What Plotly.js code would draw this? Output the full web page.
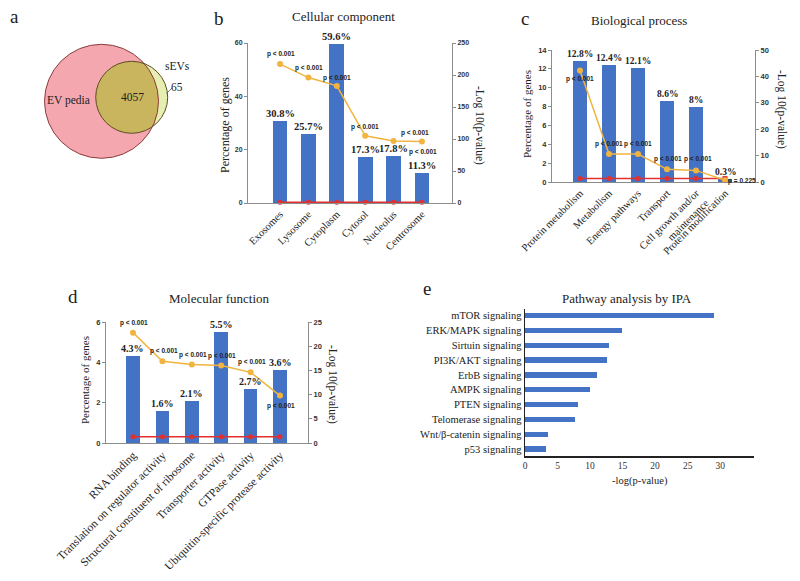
<!DOCTYPE html>
<html><head><meta charset="utf-8">
<script src="https://cdn.plot.ly/plotly-3.0.1.min.js"></script>
<style>html,body{margin:0;padding:0;background:#fff}#chart{width:800px;height:581px}</style>
</head><body><div id="chart"></div>
<script>
// ---------------- data ----------------
const vennSets = ['EV pedia', 'sEVs'];
const vennCounts = [4057, 65];            // overlap, sEVs only

const ccCategories = ['Exosomes', 'Lysosome', 'Cytoplasm', 'Cytosol', 'Nucleolus', 'Centrosome'];
const ccPercent = [30.8, 25.7, 59.6, 17.3, 17.8, 11.3];
const ccLogP = [217, 196, 183, 105, 97, 96];
const ccPLabels = ['p < 0.001', 'p < 0.001', 'p < 0.001', 'p < 0.001', 'p < 0.001', 'p < 0.001'];
const ccThreshold = [1.3, 1.3, 1.3, 1.3, 1.3, 1.3];

const bpCategories = ['Protein metabolism', 'Metabolism', 'Energy pathways', 'Transport', 'Cell growth and/or<br>maintenance', 'Protein modification'];
const bpPercent = [12.8, 12.4, 12.1, 8.6, 8, 0.3];
const bpLogP = [42.2, 10.6, 10.6, 4.8, 4.4, 0.65];
const bpPLabels = ['p < 0.001', 'p < 0.001', 'p < 0.001', 'p < 0.001', 'p < 0.001', 'p = 0.225'];
const bpThreshold = [1.3, 1.3, 1.3, 1.3, 1.3, 1.3];

const mfCategories = ['RNA binding', 'Translation on regulator activity', 'Structural constituent of ribosome', 'Transporter activity', 'GTPase activity', 'Ubiquitin-specific protease activity'];
const mfPercent = [4.3, 1.6, 2.1, 5.5, 2.7, 3.6];
const mfLogP = [22.8, 16.9, 16.2, 16.0, 14.6, 9.8];
const mfPLabels = ['p < 0.001', 'p < 0.001', 'p < 0.001', 'p < 0.001', 'p < 0.001', 'p < 0.001'];
const mfThreshold = [1.3, 1.3, 1.3, 1.3, 1.3, 1.3];

const ipaPathways = ['mTOR signaling', 'ERK/MAPK signaling', 'Sirtuin signaling', 'PI3K/AKT signaling', 'ErbB signaling', 'AMPK signaling', 'PTEN signaling', 'Telomerase signaling', 'Wnt/β-catenin signaling', 'p53 signaling'];
const ipaLogP = [29.1, 14.95, 12.85, 12.54, 11.1, 9.98, 8.09, 7.68, 3.58, 3.28];

// ---------------- style / layout ----------------
const W = 800, H = 581;
const SERIF = '"Liberation Serif","Times New Roman",serif';
const SANS = '"Liberation Sans",Arial,sans-serif';
const BLUE = '#4472c4', GOLD = '#f1b43f', RED = '#e0302f', AXIS = '#8c8c8c';

function xd(l, r) { return [l / W, r / W]; }
function yd(t, b) { return [1 - b / H, 1 - t / H]; }

// pixel boxes of plot areas
const boxB = {l: 248, r: 452, t: 43, b: 203, xr: [-1.13, 6.06]};
const boxC = {l: 552, r: 755, t: 50, b: 182, xr: [-0.966, 6.034]};
const boxD = {l: 106, r: 308, t: 322, b: 443, xr: [-0.918, 5.952]};
const boxE = {l: 525, r: 754, t: 309, b: 456};

// label offsets (pixels) for p-value labels
const ccPOff = [[1, 10], [1, 10], [0, 8], [0, 9], [29, -11], [-7, 9]];
const bpPOff = [[0, -8], [0, 10], [0, 10], [1, 10], [2, 11], [17, -1]];
const mfPOff = [[1, 10], [2, 10], [1, 10], [1, 10], [1, 10], [1, -10]];

function catX(box, anchor, fsize) {
  return {domain: xd(box.l, box.r), range: box.xr, anchor: anchor, type: 'category',
    tickangle: -45, ticks: '', showline: true, linecolor: AXIS, linewidth: 1,
    tickfont: {family: SERIF, size: fsize, color: '#222'}, showgrid: false, zeroline: false, fixedrange: true};
}
function leftY(box, anchor, range, dtick, fs) {
  return {domain: yd(box.t, box.b), anchor: anchor, range: range, dtick: dtick, tick0: 0,
    showline: true, linecolor: AXIS, linewidth: 1, ticks: 'outside', ticklen: 3, tickcolor: AXIS,
    tickfont: {family: SANS, size: fs, color: '#333', weight: 700}, showgrid: false, zeroline: false, fixedrange: true};
}
function rightY(over, anchor, range, dtick, fs) {
  return {overlaying: over, side: 'right', anchor: anchor, range: range, dtick: dtick, tick0: 0,
    showline: true, linecolor: AXIS, linewidth: 1, ticks: 'outside', ticklen: 3, tickcolor: AXIS,
    tickfont: {family: SANS, size: fs, color: '#333', weight: 700}, showgrid: false, zeroline: false, fixedrange: true};
}

function comboTraces(cats, pct, logp, thr, xa, ya, ya2, barW, redSymbols) {
  const idx = cats.map((c, i) => i);
  return [
    {type: 'bar', x: cats, y: pct, xaxis: xa, yaxis: ya, width: barW, marker: {color: BLUE}, hoverinfo: 'skip'},
    {type: 'scatter', mode: 'lines+markers', x: cats, y: thr, xaxis: xa, yaxis: ya2,
      line: {color: RED, width: 1.5}, marker: {color: RED, size: 5, symbol: redSymbols || 'circle'}, cliponaxis: false, hoverinfo: 'skip'},
    {type: 'scatter', mode: 'lines+markers', x: cats, y: logp, xaxis: xa, yaxis: ya2,
      line: {color: GOLD, width: 1.5}, marker: {color: GOLD, size: 6}, cliponaxis: false, hoverinfo: 'skip'}
  ];
}

const traces = [].concat(
  comboTraces(ccCategories, ccPercent, ccLogP, ccThreshold, 'x', 'y', 'y2', 0.52),
  comboTraces(bpCategories, bpPercent, bpLogP, bpThreshold, 'x3', 'y3', 'y4', 0.5,
    ['circle', 'circle', 'circle', 'circle', 'circle', 'square']),
  comboTraces(mfCategories, mfPercent, mfLogP, mfThreshold, 'x5', 'y5', 'y6', 0.46),
  [{type: 'bar', orientation: 'h', x: ipaLogP, y: ipaPathways, xaxis: 'x7', yaxis: 'y7', width: 0.36,
     marker: {color: BLUE}, hoverinfo: 'skip'},
   {type: 'scatter', x: [], y: [], xaxis: 'x8', yaxis: 'y8', hoverinfo: 'skip'}]
);

function txt(x, y, text, size, extra) {
  return Object.assign({xref: 'x8', yref: 'y8', x: x, y: y, text: text, showarrow: false,
    xanchor: 'center', yanchor: 'middle', font: {family: SERIF, size: size, color: '#222'}}, extra || {});
}
function pctLabels(vals, xa, ya, fs) {
  return vals.map((v, i) => ({xref: xa, yref: ya, x: i, y: v, text: v + '%', showarrow: false,
    xanchor: 'center', yanchor: 'bottom', yshift: 0, font: {family: SERIF, size: fs, color: '#222', weight: 700}}));
}
function pLabels(vals, labels, off, xa, ya) {
  return vals.map((v, i) => ({xref: xa, yref: ya, x: i, y: v, text: labels[i], showarrow: false,
    xanchor: 'center', yanchor: 'middle', xshift: off[i][0], yshift: off[i][1],
    font: {family: SANS, size: 6.5, color: '#222', weight: 700}}));
}

// Venn geometry (pixel space)
const cA = {x: 101.5, y: 101.3, r: 57};
const cB = {x: 131.7, y: 97.3, r: 36};
function lensPath(A, B) {
  const pts = [];
  for (let k = 0; k < 720; k++) {
    const t = k * Math.PI / 360;
    const px = B.x + B.r * Math.cos(t), py = B.y + B.r * Math.sin(t);
    if (Math.hypot(px - A.x, py - A.y) <= A.r) pts.push([px, py]);
    const qx = A.x + A.r * Math.cos(t), qy = A.y + A.r * Math.sin(t);
    if (Math.hypot(qx - B.x, qy - B.y) <= B.r) pts.push([qx, qy]);
  }
  pts.sort((p, q) => Math.atan2(p[1] - B.y, p[0] - B.x) - Math.atan2(q[1] - B.y, q[0] - B.x));
  return 'M' + pts.map(p => p[0].toFixed(2) + ',' + p[1].toFixed(2)).join('L') + 'Z';
}
function circ(c, fill, line) {
  return {type: 'circle', xref: 'x8', yref: 'y8', x0: c.x - c.r, x1: c.x + c.r, y0: c.y - c.r, y1: c.y + c.r,
    fillcolor: fill, line: line};
}
const shapes = [
  circ(cA, '#f4a7ae', {width: 0}),
  circ(cB, '#e6eeb2', {width: 0}),
  {type: 'path', xref: 'x8', yref: 'y8', path: lensPath(cA, cB), fillcolor: '#c9b55e', line: {width: 0}},
  circ(cA, 'rgba(0,0,0,0)', {color: '#8b3d3d', width: 1}),
  circ(cB, 'rgba(0,0,0,0)', {color: '#5e4a25', width: 1}),
  {type: 'line', xref: 'x8', yref: 'y8', x0: 166.5, y0: 93.5, x1: 172, y1: 88, line: {color: '#555', width: 0.8}}
];

const annotations = [
  txt(14, 16, 'a', 19), txt(219, 18, 'b', 19), txt(525, 18, 'c', 19), txt(73, 296, 'd', 19), txt(427, 288, 'e', 19),
  txt(68.5, 100, vennSets[0], 11.5), txt(132, 97, String(vennCounts[0]), 11.5),
  txt(177, 66, vennSets[1], 11.5), txt(177, 87, String(vennCounts[1]), 11.5),
  txt(343, 16, 'Cellular component', 13), txt(639, 20, 'Biological process', 13),
  txt(219, 298, 'Molecular function', 13), txt(627, 298, 'Pathway analysis by IPA', 13),
  txt(225, 125, 'Percentage of genes', 12, {textangle: -90}),
  txt(480, 125, '-Log 10(p-value)', 11.5, {textangle: 90}),
  txt(527, 114, 'Percentage of genes', 11, {textangle: -90}),
  txt(782, 109, '-Log 10(p-value)', 11.5, {textangle: 90}),
  txt(85, 380, 'Percentage of genes', 11, {textangle: -90}),
  txt(333, 384, '-Log 10(p-value)', 11.5, {textangle: 90}),
  txt(640, 481, '-log(p-value)', 10.5)
].concat(
  pctLabels(ccPercent, 'x', 'y', 10.5), pctLabels(bpPercent, 'x3', 'y3', 9.5), pctLabels(mfPercent, 'x5', 'y5', 10),
  pLabels(ccLogP, ccPLabels, ccPOff, 'x', 'y2'), pLabels(bpLogP, bpPLabels, bpPOff, 'x3', 'y4'),
  pLabels(mfLogP, mfPLabels, mfPOff, 'x5', 'y6')
);

const layout = {
  width: W, height: H, margin: {l: 0, r: 0, t: 0, b: 0}, paper_bgcolor: '#fff', plot_bgcolor: 'rgba(0,0,0,0)',
  showlegend: false, hovermode: false, bargap: 0,
  xaxis: catX(boxB, 'y', 10.5), yaxis: leftY(boxB, 'x', [0, 60], 20, 7), yaxis2: rightY('y', 'x', [0, 250], 50, 7),
  xaxis3: catX(boxC, 'y3', 10.5), yaxis3: leftY(boxC, 'x3', [0, 14], 2, 7.5), yaxis4: rightY('y3', 'x3', [0, 50], 10, 7.5),
  xaxis5: catX(boxD, 'y5', 11.5), yaxis5: leftY(boxD, 'x5', [0, 6], 2, 7.5), yaxis6: rightY('y5', 'x5', [0, 25], 5, 7.5),
  xaxis7: {domain: xd(boxE.l, boxE.r), anchor: 'y7', range: [0, 35.2], tickvals: [0, 5, 10, 15, 20, 25, 30],
    showline: true, linecolor: '#222', linewidth: 1.5, ticks: '', showgrid: false, zeroline: false,
    tickfont: {family: SERIF, size: 9.5, color: '#333'}, fixedrange: true},
  yaxis7: {domain: yd(boxE.t, boxE.b), anchor: 'x7', type: 'category', range: [9.47, -0.45],
    showline: true, linecolor: '#222', linewidth: 1.5, ticks: '', showgrid: false, zeroline: false,
    tickfont: {family: SERIF, size: 10.5, color: '#222'}, fixedrange: true},
  xaxis8: {domain: [0, 1], range: [0, W], visible: false, fixedrange: true, anchor: 'y8'},
  yaxis8: {domain: [0, 1], range: [H, 0], visible: false, fixedrange: true, anchor: 'x8'},
  shapes: shapes,
  annotations: annotations
};

Plotly.newPlot('chart', traces, layout, {staticPlot: true, displayModeBar: false});
</script>
</body></html>
